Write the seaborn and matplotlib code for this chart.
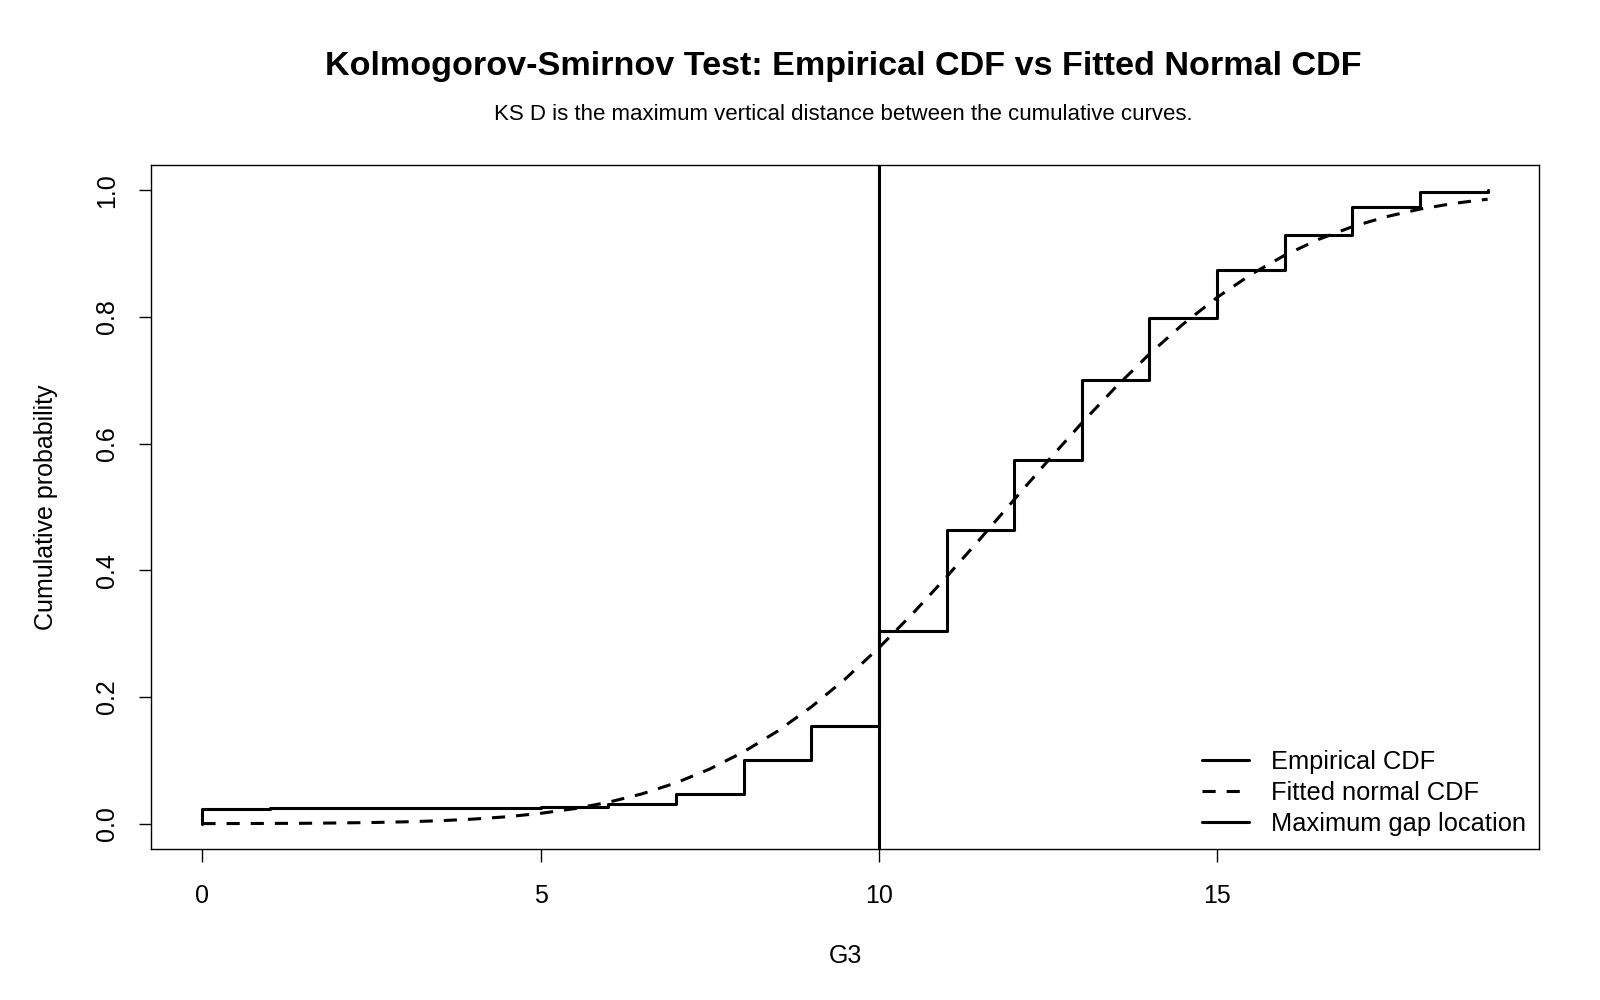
import matplotlib
matplotlib.use("Agg")
import matplotlib.pyplot as plt
import seaborn as sns
import pandas as pd

# empirical CDF of G3 (step heights)
g3_steps = [0, 0, 1, 5, 6, 7, 8, 9, 10, 11, 12, 13, 14, 15, 16, 17, 18, 19]
ecdf_vals = [0.0, 0.0231, 0.0247, 0.0262, 0.0308, 0.0462, 0.1002, 0.1541, 0.3035,
             0.4638, 0.5747, 0.7011, 0.7982, 0.8736, 0.9291, 0.9738, 0.9969, 1.0]

# fitted normal CDF, read every half unit
g3_grid = [0, 0.5, 1, 1.5, 2, 2.5, 3, 3.5, 4, 4.5, 5, 5.5, 6, 6.5, 7, 7.5, 8, 8.5, 9, 9.5,
           10, 10.5, 11, 11.5, 12, 12.5, 13, 13.5, 14, 14.5, 15, 15.5, 16, 16.5, 17, 17.5,
           18, 18.5, 19]
normal_vals = [0.0001, 0.0002, 0.0004, 0.0006, 0.0011, 0.0018, 0.0029, 0.0046, 0.0072,
               0.0109, 0.0163, 0.0237, 0.0338, 0.0471, 0.0644, 0.0863, 0.1133, 0.1459,
               0.1842, 0.2282, 0.2776, 0.3317, 0.3896, 0.4500, 0.5116, 0.5730, 0.6326,
               0.6891, 0.7416, 0.7890, 0.8309, 0.8670, 0.8975, 0.9225, 0.9426, 0.9583,
               0.9704, 0.9794, 0.9860]

max_gap_x = 10
x_ticks = [0, 5, 10, 15]
y_ticks = [0.0, 0.2, 0.4, 0.6, 0.8, 1.0]

sns.set_style("ticks")
plt.rcParams["font.family"] = ["Liberation Sans", "DejaVu Sans"]
plt.rcParams["text.color"] = "black"
plt.rcParams["axes.labelcolor"] = "black"

ecdf_df = pd.DataFrame({"G3": g3_steps, "F": ecdf_vals})
norm_df = pd.DataFrame({"G3": g3_grid, "F": normal_vals})

fig = plt.figure(figsize=(16, 10), dpi=100)
ax = fig.add_axes([0.0944, 0.151, 0.8675, 0.684])

lw = 2.2
sns.lineplot(data=ecdf_df, x="G3", y="F", ax=ax, color="black", lw=lw,
             drawstyle="steps-post", sort=False, estimator=None, label="Empirical CDF")
sns.lineplot(data=norm_df, x="G3", y="F", ax=ax, color="black", lw=lw,
             dashes=False, estimator=None, label="Fitted normal CDF")
ax.lines[-1].set_dashes((4.3, 3.6))
ax.axvline(max_gap_x, color="black", lw=lw, label="Maximum gap location")

ax.set_xlim(-0.76, 19.76)
ax.set_ylim(-0.04, 1.04)
ax.set_xticks(x_ticks)
ax.set_xticklabels([str(t) for t in x_ticks])
ax.set_yticks(y_ticks)
ax.set_yticklabels([f"{t:.1f}" for t in y_ticks], rotation=90, va="center")

for s in ax.spines.values():
    s.set_visible(True)
    s.set_linewidth(1.0)
    s.set_color("black")
ax.tick_params(axis="both", direction="out", length=9, width=1.0, labelsize=18,
               colors="black")
ax.tick_params(axis="x", pad=16)
ax.tick_params(axis="y", pad=14)

ax.set_xlabel("G3", fontsize=18, va="center")
ax.set_ylabel("Cumulative probability", fontsize=18, va="center")
ax.xaxis.set_label_coords(0.5, -0.156)
ax.yaxis.set_label_coords(-0.0756, 0.5)

leg = ax.legend(loc="lower right", bbox_to_anchor=(1.0, 0.0), frameon=False,
                fontsize=18.3, handlelength=1.85, handletextpad=0.85,
                labelspacing=0.27, borderaxespad=0.12)

fig.text(0.527, 0.934, "Kolmogorov-Smirnov Test: Empirical CDF vs Fitted Normal CDF",
         ha="center", va="center", fontsize=24.6, fontweight="bold")
fig.text(0.527, 0.885, "KS D is the maximum vertical distance between the cumulative curves.",
         ha="center", va="center", fontsize=16)

fig.savefig("out.png", dpi=100)
